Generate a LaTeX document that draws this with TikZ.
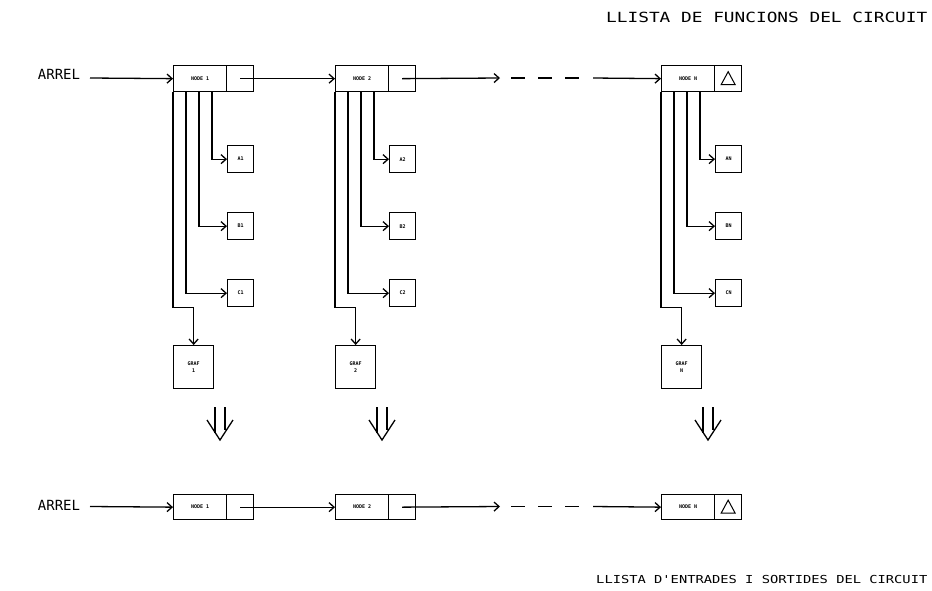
\documentclass[tikz,border=0pt]{standalone}
\usepackage{fontspec}
\newfontfamily\plotfont{DejaVu Sans Mono}
\usetikzlibrary{arrows.meta,calc}
\begin{document}
\begin{tikzpicture}[x=1pt,y=-1pt,line width=1.3pt,
  >={Straight Barb[length=5pt,width=9pt]},
  cellbox/.style={draw,inner sep=0pt,minimum height=26pt,anchor=north west,
    font=\plotfont\bfseries\fontsize{5}{6}\selectfont},
  smallbox/.style={draw,inner sep=0pt,minimum width=26pt,minimum height=27pt,anchor=north west,
    font=\plotfont\bfseries\fontsize{5}{6}\selectfont},
  grafbox/.style={draw,inner sep=0pt,minimum width=40pt,minimum height=43pt,anchor=north west,
    align=center,font=\plotfont\bfseries\fontsize{5}{7}\selectfont},
  bigtext/.style={inner sep=0pt,font=\plotfont\fontsize{14}{16}\selectfont},
  midtext/.style={inner sep=0pt,font=\plotfont\fontsize{11}{13}\selectfont},
  dashline/.style={dash pattern=on 14pt off 13pt},
  tri/.style={line width=1pt}]
\useasboundingbox (0,0) rectangle (932,590);

% titles
\node[bigtext,anchor=east] (title1) at (928,17) {\scalebox{1.27}[1]{LLISTA DE FUNCIONS DEL CIRCUIT}};
\node[midtext,anchor=east] (title2) at (928,579) {\scalebox{1.25}[1]{LLISTA D'ENTRADES I SORTIDES DEL CIRCUIT}};
\node[bigtext] (arrel1) at (59,74) {ARREL};
\node[bigtext] (arrel2) at (59,505) {ARREL};

% columns
\foreach \dx/\n/\s in {0/1/1,162/2/2,488/3/N}{
  \node[cellbox,minimum width=53pt] (nl\n) at (173+\dx,65) {NODE \s};
  \node[cellbox,minimum width=27pt] (nr\n) at (226+\dx,65) {};
  \node[smallbox] (a\n) at (227+\dx,145) {A\s};
  \node[smallbox] (b\n) at (227+\dx,212) {B\s};
  \node[smallbox] (c\n) at (227+\dx,279) {C\s};
  \node[grafbox] (g\n) at (173+\dx,345) {GRAF\\\s};
  \draw[->] ($(nl\n.south west)+(39,0)$) |- (a\n.west);
  \draw[->] ($(nl\n.south west)+(26,0)$) |- (b\n.west);
  \draw[->] ($(nl\n.south west)+(13,0)$) |- (c\n.west);
  \draw[->] (nl\n.south west) -- ++(0,215) -| (g\n.north);
  % double down arrow
  \draw ($(g\n.north west)+(42,62)$) -- ++(0,26);
  \draw ($(g\n.north west)+(52,62)$) -- ++(0,23);
  \draw ($(g\n.north west)+(34,75)$) -- ++(13,20) -- ++(13,-20);
  % bottom row
  \node[cellbox,minimum width=53pt,minimum height=25pt] (bl\n) at (173+\dx,494) {NODE \s};
  \node[cellbox,minimum width=27pt,minimum height=25pt] (br\n) at (226+\dx,494) {};
}

% triangles
\draw[tri] ($(nr3.center)+(-7,6)$) -- ++(14,0) -- ++(-7,-13) -- cycle;
\draw[tri] ($(br3.center)+(-7,6)$) -- ++(14,0) -- ++(-7,-13) -- cycle;

% top row chain
\coordinate (s1) at (90,78);
\coordinate (d1) at (500,78);
\coordinate (d2) at (511,78);
\coordinate (d3) at (580,78);
\coordinate (d4) at (593,78);
\draw[->] (s1) -- (nl1.west);
\draw[->] (nr1.center) -- (nl2.west);
\draw[->] (nr2.center) -- (d1);
\draw[dashline] (d2) -- (d3);
\draw[->] (d4) -- (nl3.west);

% bottom row chain
\coordinate (t1) at (90,506.5);
\coordinate (e1) at (500,506.5);
\coordinate (e2) at (511,506.5);
\coordinate (e3) at (580,506.5);
\coordinate (e4) at (593,506.5);
\draw[->] (t1) -- (bl1.west);
\draw[->] (br1.center) -- (bl2.west);
\draw[->] (br2.center) -- (e1);
\draw[dashline] (e2) -- (e3);
\draw[->] (e4) -- (bl3.west);
\end{tikzpicture}
\end{document}
